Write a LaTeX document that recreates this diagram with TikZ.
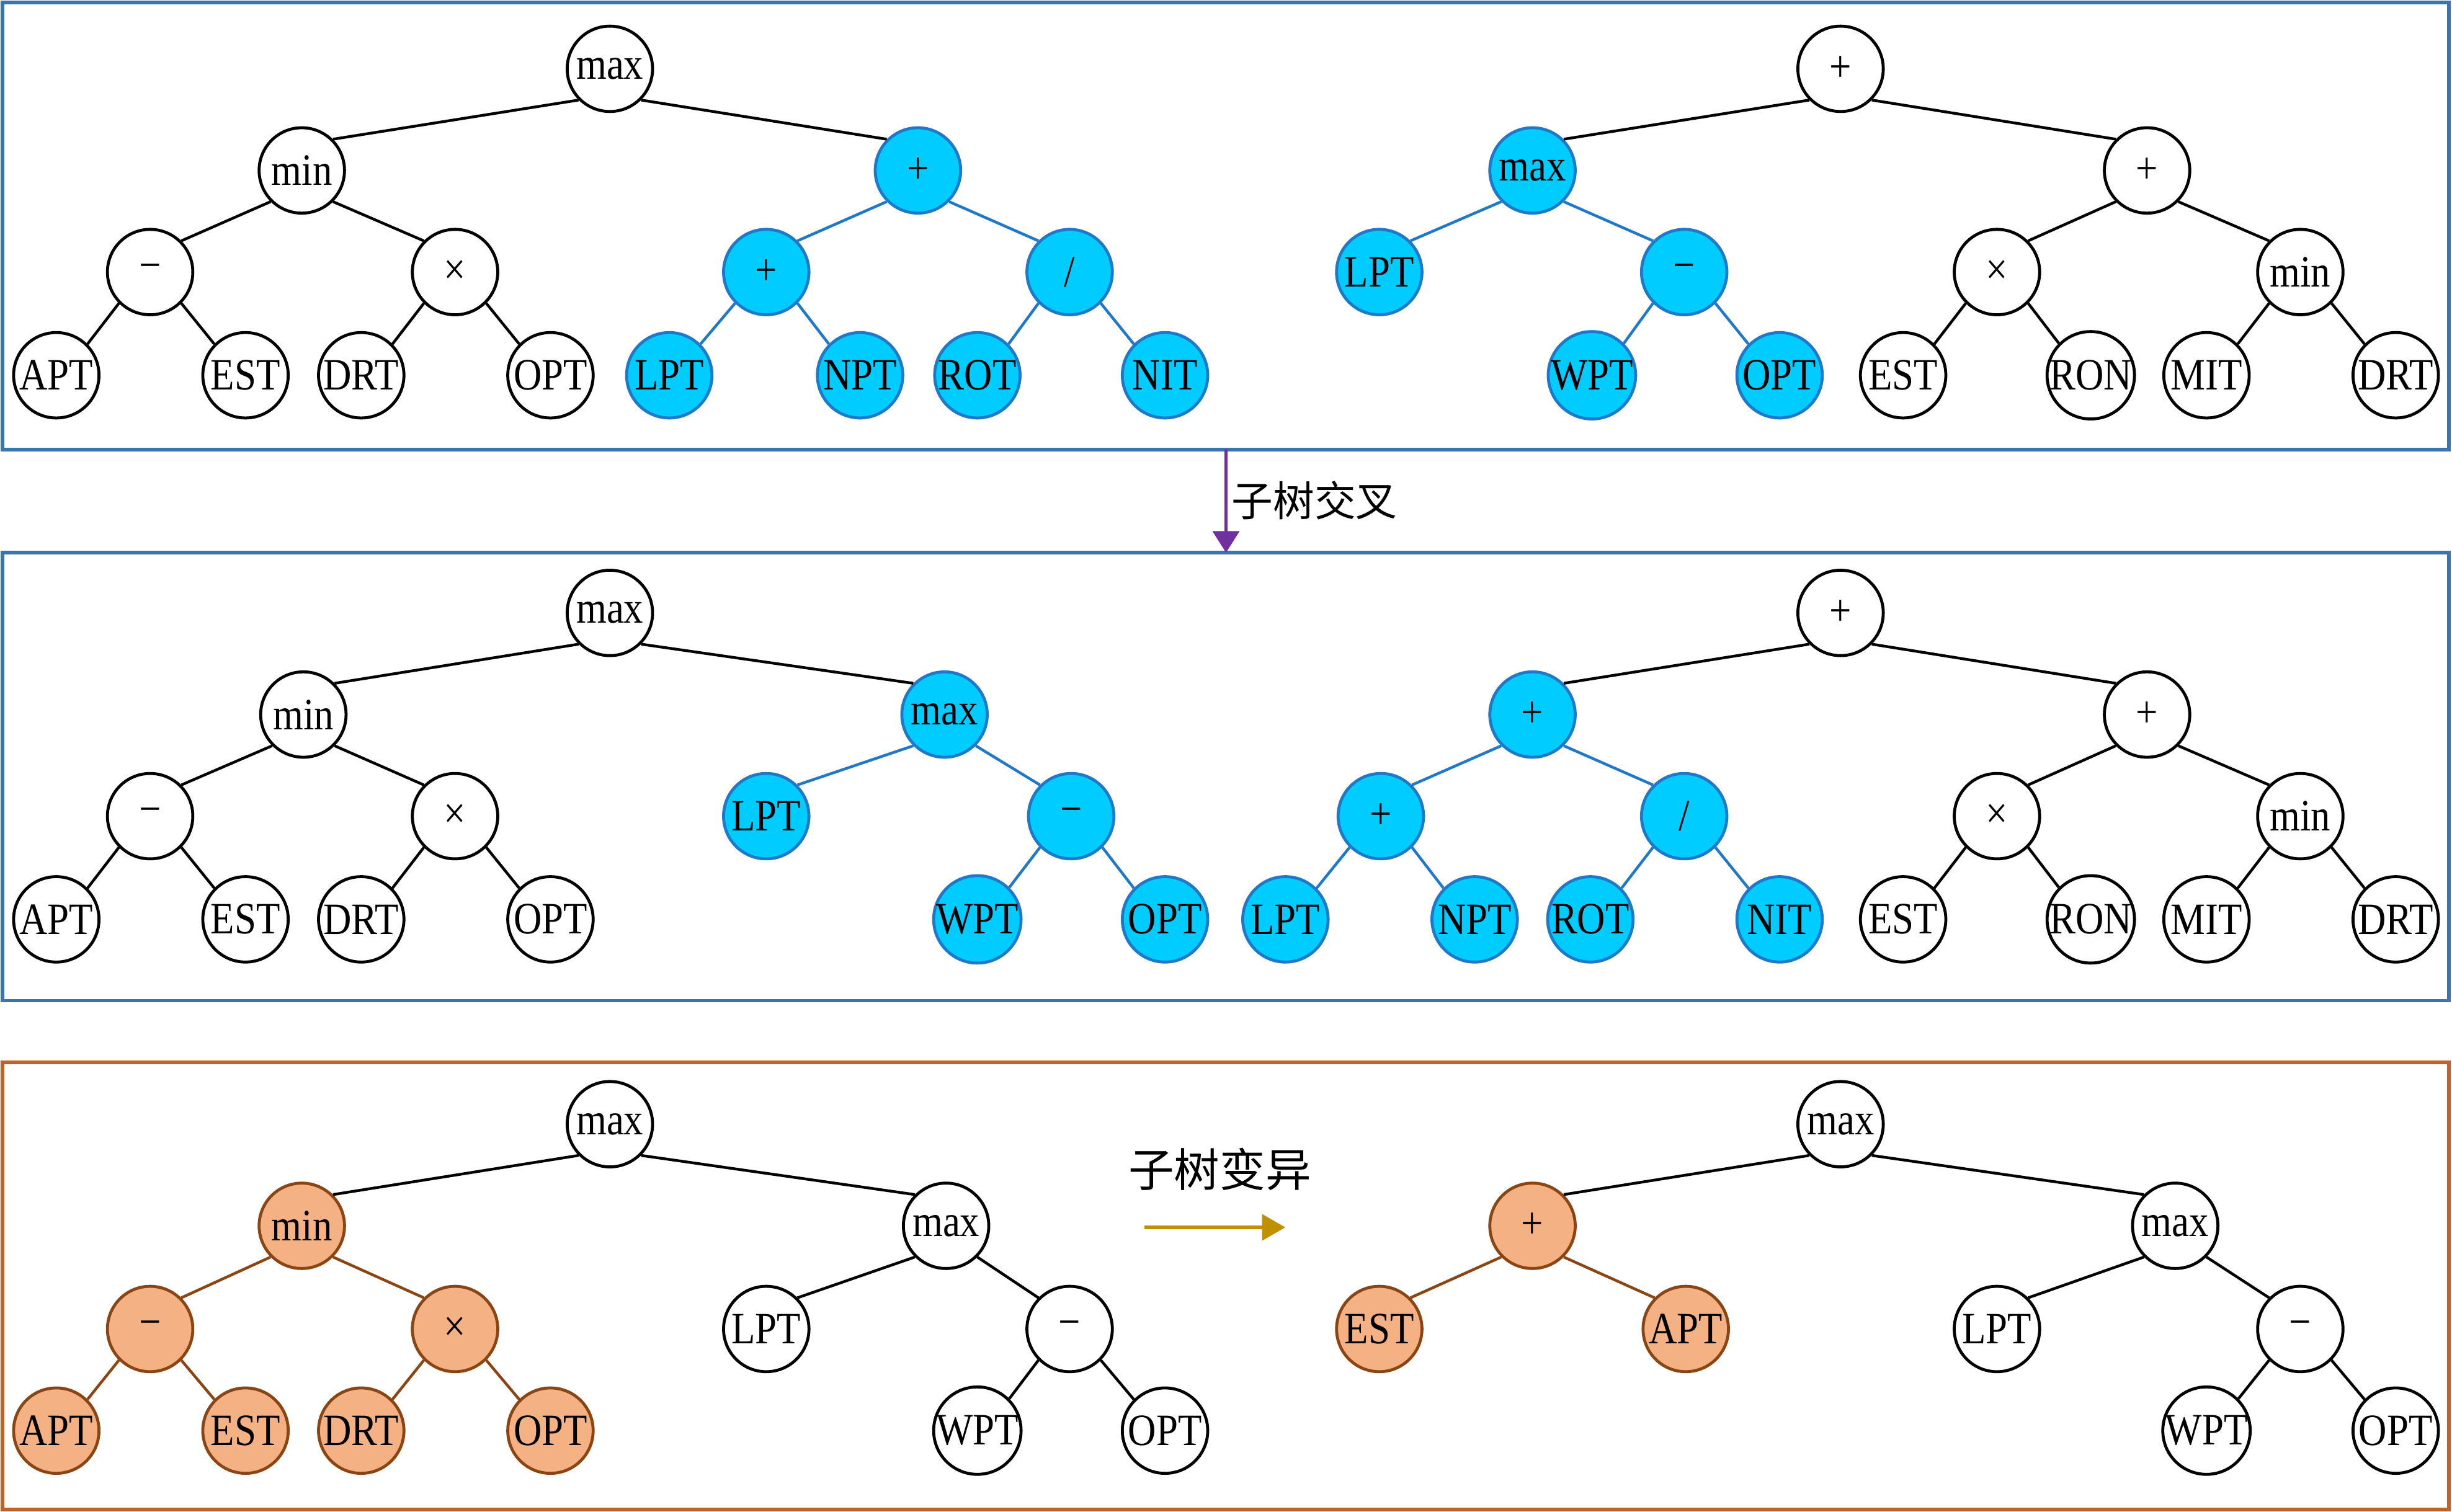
\documentclass[tikz,border=0pt]{standalone}
\usepackage{fontspec}
\setmainfont{Liberation Serif}[FakeStretch=0.87]
\newfontfamily\cjk{Noto Sans CJK SC}
\usetikzlibrary{arrows.meta}
\definecolor{crossfill}{HTML}{00CCFF}
\definecolor{crossline}{HTML}{1F78C8}
\definecolor{mutfill}{HTML}{F4B183}
\definecolor{mutline}{HTML}{8B4513}
\definecolor{bluebox}{HTML}{3A75B0}
\definecolor{orangebox}{HTML}{C0622A}
\definecolor{crossarrow}{HTML}{7030A0}
\definecolor{mutarrow}{HTML}{BF9000}

\begin{document}
\begin{tikzpicture}[x=0.13mm,y=-0.13mm]
        \tikzstyle{gpnode}=[circle,draw,line width=0.7pt,minimum size=0.71cm,inner sep=0pt,fill=white,font=\fontsize{10.6}{12}\selectfont]
        \tikzstyle{xnode}=[gpnode,fill=crossfill,draw=crossline]
        \tikzstyle{mnode}=[gpnode,fill=mutfill,draw=mutline]
        \tikzstyle{edge}=[line width=0.65pt]
        \tikzstyle{xedge}=[edge,draw=crossline]
        \tikzstyle{medge}=[edge,draw=mutline]
        \tikzstyle{panel}=[line width=0.8pt]
        \useasboundingbox (0,0) rectangle (1568,967);
        \draw[panel,bluebox] (1.5,1.5) rectangle (1566,287.5);
        \draw[panel,bluebox] (1.5,353.5) rectangle (1566,640);
        \draw[panel,orangebox] (1.5,679.5) rectangle (1566,965.5);
        % panel 1, left tree
        \node[gpnode] (A1) at (390,44) {max};
        \node[gpnode] (A2) at (193,109) {min};
        \node[xnode] (A3) at (587,109) {+};
        \node[gpnode] (A4) at (96,174) {−};
        \node[gpnode] (A5) at (291,174) {×};
        \node[xnode] (A6) at (490,174) {+};
        \node[xnode] (A7) at (684,174) {/};
        \node[gpnode] (A8) at (36,240) {APT};
        \node[gpnode] (A9) at (157,240) {EST};
        \node[gpnode] (A10) at (231,240) {DRT};
        \node[gpnode] (A11) at (352,240) {OPT};
        \node[xnode] (A12) at (428,240) {LPT};
        \node[xnode] (A13) at (550,240) {NPT};
        \node[xnode] (A14) at (625,240) {ROT};
        \node[xnode] (A15) at (745,240) {NIT};
        % panel 1, right tree
        \node[gpnode] (B1) at (1177,44) {+};
        \node[xnode] (B2) at (980,109) {max};
        \node[gpnode] (B3) at (1373,109) {+};
        \node[xnode] (B4) at (882,174) {LPT};
        \node[xnode] (B5) at (1077,174) {−};
        \node[gpnode] (B6) at (1277,174) {×};
        \node[gpnode] (B7) at (1471,174) {min};
        \node[xnode] (B10) at (1018,240) {WPT};
        \node[xnode] (B11) at (1138,240) {OPT};
        \node[gpnode] (B12) at (1217,240) {EST};
        \node[gpnode] (B13) at (1337,240) {RON};
        \node[gpnode] (B14) at (1411,240) {MIT};
        \node[gpnode] (B15) at (1532,240) {DRT};
        % panel 2, left tree
        \node[gpnode] (C1) at (390,392) {max};
        \node[gpnode] (C2) at (194,457) {min};
        \node[xnode] (C3) at (604,457) {max};
        \node[gpnode] (C4) at (96,522) {−};
        \node[gpnode] (C5) at (291,522) {×};
        \node[xnode] (C6) at (490,522) {LPT};
        \node[xnode] (C7) at (685,522) {−};
        \node[gpnode] (C8) at (36,588) {APT};
        \node[gpnode] (C9) at (157,588) {EST};
        \node[gpnode] (C10) at (231,588) {DRT};
        \node[gpnode] (C11) at (352,588) {OPT};
        \node[xnode] (C14) at (625,588) {WPT};
        \node[xnode] (C15) at (745,588) {OPT};
        % panel 2, right tree
        \node[gpnode] (D1) at (1177,392) {+};
        \node[xnode] (D2) at (980,457) {+};
        \node[gpnode] (D3) at (1373,457) {+};
        \node[xnode] (D4) at (883,522) {+};
        \node[xnode] (D5) at (1077,522) {/};
        \node[gpnode] (D6) at (1277,522) {×};
        \node[gpnode] (D7) at (1471,522) {min};
        \node[xnode] (D8) at (822,588) {LPT};
        \node[xnode] (D9) at (943,588) {NPT};
        \node[xnode] (D10) at (1017,588) {ROT};
        \node[xnode] (D11) at (1138,588) {NIT};
        \node[gpnode] (D12) at (1217,588) {EST};
        \node[gpnode] (D13) at (1337,588) {RON};
        \node[gpnode] (D14) at (1411,588) {MIT};
        \node[gpnode] (D15) at (1532,588) {DRT};
        % panel 3, left tree
        \node[gpnode] (E1) at (390,719) {max};
        \node[mnode] (E2) at (193,784) {min};
        \node[gpnode] (E3) at (605,784) {max};
        \node[mnode] (E4) at (96,850) {−};
        \node[mnode] (E5) at (291,850) {×};
        \node[gpnode] (E6) at (490,850) {LPT};
        \node[gpnode] (E7) at (684,850) {−};
        \node[mnode] (E8) at (36,915) {APT};
        \node[mnode] (E9) at (157,915) {EST};
        \node[mnode] (E10) at (231,915) {DRT};
        \node[mnode] (E11) at (352,915) {OPT};
        \node[gpnode] (E14) at (625,915) {WPT};
        \node[gpnode] (E15) at (745,915) {OPT};
        % panel 3, right tree
        \node[gpnode] (F1) at (1177,719) {max};
        \node[mnode] (F2) at (980,784) {+};
        \node[gpnode] (F3) at (1391,784) {max};
        \node[mnode] (F4) at (882,850) {EST};
        \node[mnode] (F5) at (1078,850) {APT};
        \node[gpnode] (F6) at (1277,850) {LPT};
        \node[gpnode] (F7) at (1471,850) {−};
        \node[gpnode] (F14) at (1411,915) {WPT};
        \node[gpnode] (F15) at (1532,915) {OPT};
        % edges to left children
        \foreach \a/\b/\s in {A1/A2/edge,A2/A4/edge,A4/A8/edge,A5/A10/edge,A3/A6/xedge,A6/A12/xedge,A7/A14/xedge,
                B1/B2/edge,B3/B6/edge,B6/B12/edge,B7/B14/edge,B2/B4/xedge,B5/B10/xedge,
                C1/C2/edge,C2/C4/edge,C4/C8/edge,C5/C10/edge,C3/C6/xedge,C7/C14/xedge,
                D1/D2/edge,D3/D6/edge,D6/D12/edge,D7/D14/edge,D2/D4/xedge,D4/D8/xedge,D5/D10/xedge,
                E1/E2/edge,E3/E6/edge,E7/E14/edge,E2/E4/medge,E4/E8/medge,E5/E10/medge,
                F1/F2/edge,F3/F6/edge,F7/F14/edge,F2/F4/medge}
            \draw[\s] (\a.south west) -- (\b.north east);
        % edges to right children
        \foreach \a/\b/\s in {A1/A3/edge,A2/A5/edge,A4/A9/edge,A5/A11/edge,A3/A7/xedge,A6/A13/xedge,A7/A15/xedge,
                B1/B3/edge,B3/B7/edge,B6/B13/edge,B7/B15/edge,B2/B5/xedge,B5/B11/xedge,
                C1/C3/edge,C2/C5/edge,C4/C9/edge,C5/C11/edge,C3/C7/xedge,C7/C15/xedge,
                D1/D3/edge,D3/D7/edge,D6/D13/edge,D7/D15/edge,D2/D5/xedge,D4/D9/xedge,D5/D11/xedge,
                E1/E3/edge,E3/E7/edge,E7/E15/edge,E2/E5/medge,E4/E9/medge,E5/E11/medge,
                F1/F3/edge,F3/F7/edge,F7/F15/edge,F2/F5/medge}
            \draw[\s] (\a.south east) -- (\b.north west);
        % operators
        \coordinate (xtop) at (784,287.5);
        \coordinate (xbot) at (784,353.5);
        \draw[crossarrow,line width=0.75pt,-{Triangle[length=0.18cm,width=0.22cm]}] (xtop) -- (xbot);
        \node[anchor=west,inner sep=0pt,font=\cjk\fontsize{9.8}{11}\selectfont] (xlabel) at (787,320) {子树交叉};
        \coordinate (mfrom) at (732,785);
        \coordinate (mto) at (822,785);
        \draw[mutarrow,line width=0.9pt,-{Triangle[length=0.195cm,width=0.215cm]}] (mfrom) -- (mto);
        \node[inner sep=0pt,font=\cjk\fontsize{10.8}{12}\selectfont] (mlabel) at (780,748) {子树变异};
\end{tikzpicture}
\end{document}
